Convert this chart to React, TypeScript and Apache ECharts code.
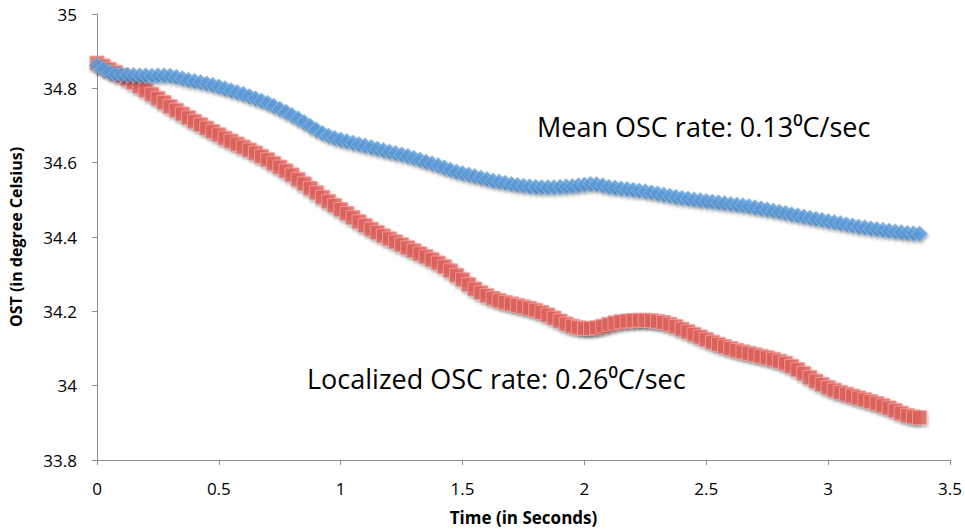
import React, { useEffect, useRef } from "react";
import * as echarts from "echarts";

const timeSeconds = [
  0, 0.025, 0.05, 0.075, 0.1, 0.125, 0.15, 0.175, 0.2, 0.225, 0.25, 0.275, 0.3, 0.325, 0.35, 0.375,
  0.4, 0.425, 0.45, 0.475, 0.5, 0.525, 0.55, 0.575, 0.6, 0.625, 0.65, 0.675, 0.7, 0.725, 0.75, 0.775,
  0.8, 0.825, 0.85, 0.875, 0.9, 0.925, 0.95, 0.975, 1.0, 1.025, 1.05, 1.075, 1.1, 1.125, 1.15, 1.175,
  1.2, 1.225, 1.25, 1.275, 1.3, 1.325, 1.35, 1.375, 1.4, 1.425, 1.45, 1.475, 1.5, 1.525, 1.55, 1.575,
  1.6, 1.625, 1.65, 1.675, 1.7, 1.725, 1.75, 1.775, 1.8, 1.825, 1.85, 1.875, 1.9, 1.925, 1.95, 1.975,
  2.0, 2.025, 2.05, 2.075, 2.1, 2.125, 2.15, 2.175, 2.2, 2.225, 2.25, 2.275, 2.3, 2.325, 2.35, 2.375,
  2.4, 2.425, 2.45, 2.475, 2.5, 2.525, 2.55, 2.575, 2.6, 2.625, 2.65, 2.675, 2.7, 2.725, 2.75, 2.775,
  2.8, 2.825, 2.85, 2.875, 2.9, 2.925, 2.95, 2.975, 3.0, 3.025, 3.05, 3.075, 3.1, 3.125, 3.15, 3.175,
  3.2, 3.225, 3.25, 3.275, 3.3, 3.325, 3.35, 3.375,
];

// Mean OST (blue diamonds)
const meanOST = [
  34.862, 34.852, 34.843, 34.838, 34.837, 34.836, 34.835, 34.834, 34.834, 34.833, 34.834, 34.834, 34.833, 34.83, 34.826, 34.822,
  34.819, 34.816, 34.812, 34.808, 34.804, 34.799, 34.794, 34.789, 34.784, 34.778, 34.772, 34.766, 34.76, 34.752, 34.744, 34.736,
  34.727, 34.718, 34.708, 34.698, 34.688, 34.679, 34.672, 34.666, 34.661, 34.657, 34.653, 34.649, 34.645, 34.641, 34.637, 34.633,
  34.629, 34.625, 34.621, 34.617, 34.612, 34.607, 34.602, 34.597, 34.592, 34.586, 34.58, 34.575, 34.571, 34.567, 34.563, 34.559,
  34.555, 34.551, 34.548, 34.545, 34.542, 34.539, 34.537, 34.535, 34.534, 34.533, 34.533, 34.533, 34.534, 34.535, 34.536, 34.538,
  34.54, 34.542, 34.541, 34.538, 34.534, 34.532, 34.53, 34.528, 34.526, 34.524, 34.522, 34.519, 34.516, 34.513, 34.51, 34.507,
  34.504, 34.502, 34.5, 34.498, 34.496, 34.494, 34.492, 34.49, 34.488, 34.486, 34.484, 34.482, 34.479, 34.476, 34.473, 34.47,
  34.467, 34.464, 34.46, 34.457, 34.454, 34.451, 34.448, 34.445, 34.442, 34.439, 34.436, 34.433, 34.43, 34.427, 34.425, 34.422,
  34.42, 34.418, 34.416, 34.414, 34.412, 34.41, 34.409, 34.408,
];

// Localized OST (red squares)
const localizedOST = [
  34.868, 34.86, 34.851, 34.843, 34.834, 34.825, 34.815, 34.805, 34.795, 34.784, 34.773, 34.762, 34.751, 34.741, 34.731, 34.721,
  34.711, 34.702, 34.693, 34.684, 34.675, 34.666, 34.658, 34.65, 34.642, 34.634, 34.626, 34.617, 34.608, 34.598, 34.588, 34.578,
  34.567, 34.555, 34.543, 34.531, 34.519, 34.507, 34.496, 34.485, 34.474, 34.463, 34.452, 34.441, 34.431, 34.421, 34.412, 34.403,
  34.395, 34.387, 34.379, 34.371, 34.363, 34.355, 34.347, 34.339, 34.33, 34.32, 34.309, 34.297, 34.285, 34.272, 34.26, 34.25,
  34.242, 34.235, 34.229, 34.224, 34.22, 34.216, 34.212, 34.208, 34.203, 34.197, 34.19, 34.182, 34.174, 34.166, 34.16, 34.156,
  34.154, 34.154, 34.156, 34.16, 34.165, 34.169, 34.172, 34.174, 34.175, 34.176, 34.176, 34.175, 34.173, 34.17, 34.165, 34.159,
  34.152, 34.145, 34.138, 34.131, 34.124, 34.117, 34.111, 34.105, 34.1, 34.095, 34.091, 34.087, 34.083, 34.079, 34.075, 34.071,
  34.066, 34.06, 34.052, 34.043, 34.033, 34.022, 34.012, 34.003, 33.995, 33.988, 33.982, 33.977, 33.972, 33.967, 33.962, 33.957,
  33.952, 33.946, 33.94, 33.933, 33.926, 33.92, 33.916, 33.914,
];

const xAxisTitle = "Time (in Seconds)";
const yAxisTitle = "OST (in degree Celsius)";
const meanNote = "Mean OSC rate: 0.13⁰C/sec";
const localizedNote = "Localized OSC rate: 0.26⁰C/sec";

const FONT = "'Open Sans', 'Noto Sans', sans-serif";

export default function App() {
  const ref = useRef<HTMLDivElement>(null);

  useEffect(() => {
    if (!ref.current) return;
    const chart = echarts.init(ref.current, undefined, { renderer: "svg" });

    const pair = (vals: number[]) => timeSeconds.map((t, i) => [t, vals[i]]);

    const axisLine = { show: true, lineStyle: { color: "#8e8e8e", width: 1 } };
    const axisTick = { show: true, inside: false, length: 5, lineStyle: { color: "#8e8e8e" } };

    chart.setOption({
      animation: false,
      backgroundColor: "#ffffff",
      grid: { left: 91, right: 15, top: 14, bottom: 71, containLabel: false },
      xAxis: {
        type: "value",
        min: 0,
        max: 3.5,
        interval: 0.5,
        axisLine,
        axisTick,
        splitLine: { show: false },
        axisLabel: { color: "#000", fontSize: 17, fontFamily: FONT, margin: 20 },
        name: xAxisTitle,
        nameLocation: "middle",
        nameGap: 49,
        nameTextStyle: { color: "#000", fontSize: 17, fontWeight: "bold", fontFamily: FONT },
      },
      yAxis: {
        type: "value",
        min: 33.8,
        max: 35,
        interval: 0.2,
        axisLine,
        axisTick,
        splitLine: { show: false },
        axisLabel: { color: "#000", fontSize: 17, fontFamily: FONT, margin: 20 },
        name: yAxisTitle,
        nameLocation: "middle",
        nameGap: 73,
        nameRotate: 90,
        nameTextStyle: { color: "#000", fontSize: 16, fontWeight: "bold", fontFamily: FONT },
      },
      series: [
        {
          name: "Localized",
          type: "scatter",
          symbol: "rect",
          symbolSize: 14,
          data: pair(localizedOST),
          itemStyle: {
            color: "#e2625c",
            borderColor: "#f3a39e",
            borderWidth: 1,
            shadowColor: "rgba(0,0,0,0.35)",
            shadowBlur: 3,
            shadowOffsetX: 1,
            shadowOffsetY: 2,
          },
          z: 2,
        },
        {
          name: "Mean",
          type: "scatter",
          symbol: "diamond",
          symbolSize: 16,
          data: pair(meanOST),
          itemStyle: {
            color: "#5b9ad9",
            borderColor: "#8cbbea",
            borderWidth: 1,
            shadowColor: "rgba(0,0,0,0.35)",
            shadowBlur: 3,
            shadowOffsetX: 1,
            shadowOffsetY: 2,
          },
          z: 3,
        },
      ],
      graphic: [
        {
          type: "text",
          left: 537,
          top: 113,
          style: { text: meanNote, fill: "#000", font: `27px ${FONT}` },
        },
        {
          type: "text",
          left: 307,
          top: 365,
          style: { text: localizedNote, fill: "#000", font: `27px ${FONT}` },
        },
      ],
    });

    return () => chart.dispose();
  }, []);

  return (
    <div
      ref={ref}
      style={{ position: "fixed", left: 0, top: 0, width: 965, height: 531, background: "#fff" }}
    />
  );
}
